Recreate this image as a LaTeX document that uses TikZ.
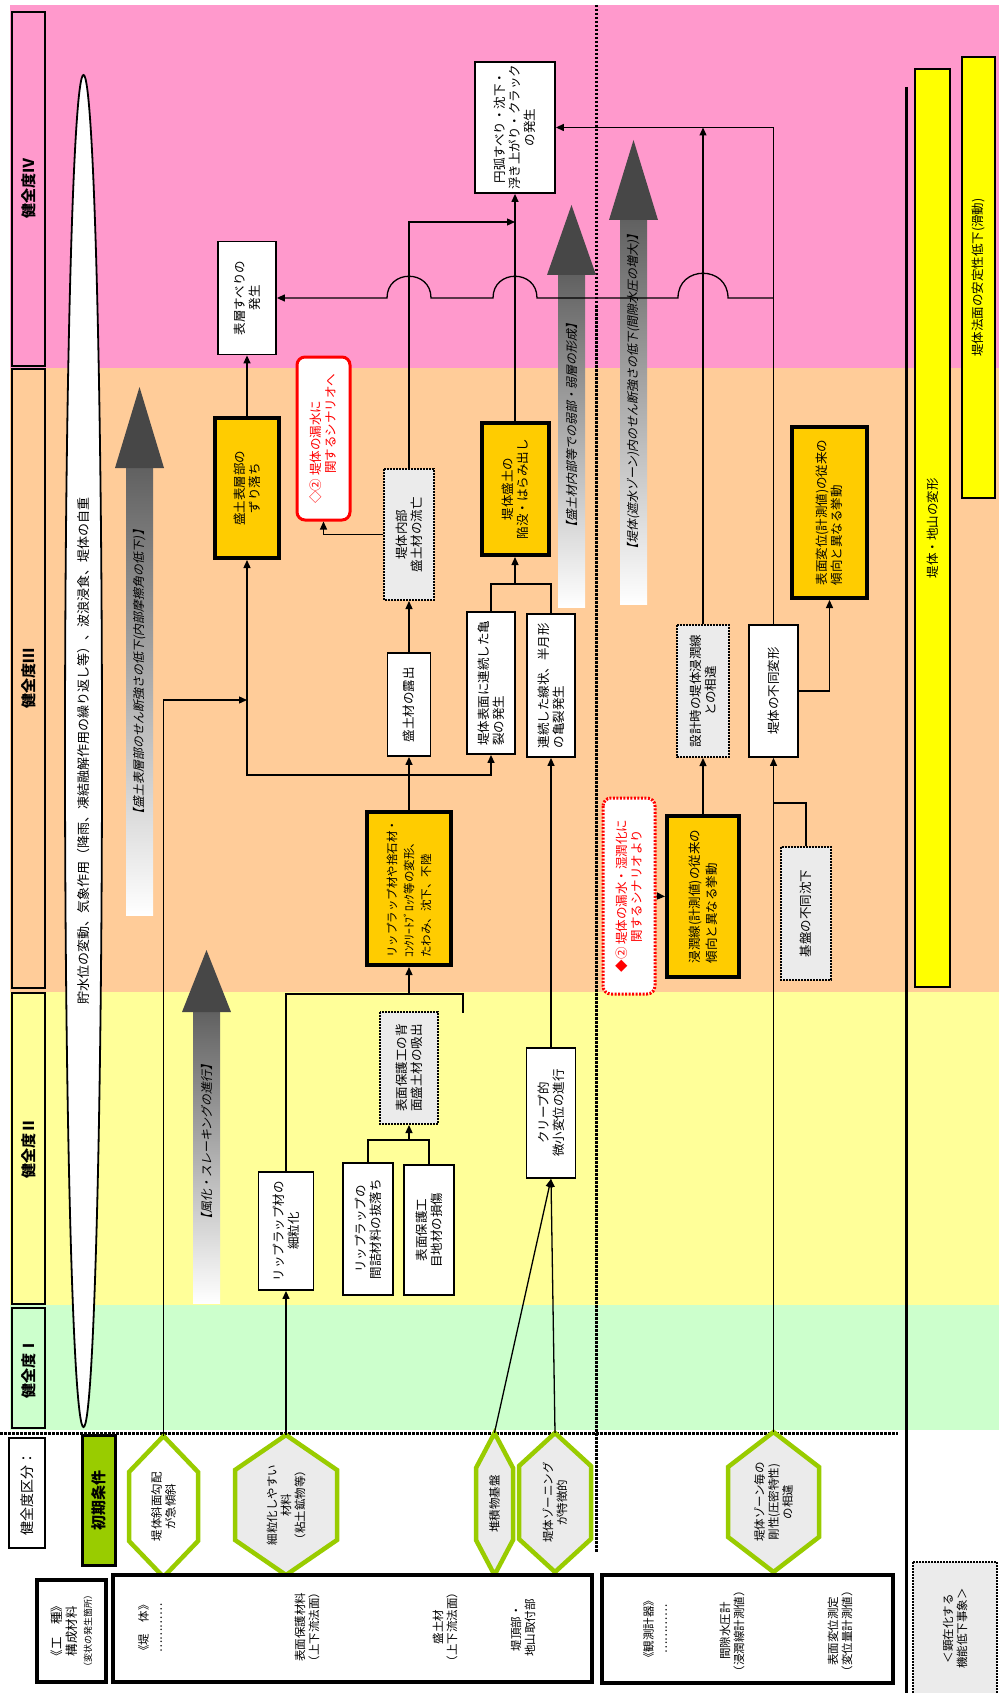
\documentclass[tikz,border=0pt]{standalone}
\usepackage{fontspec}
\setmainfont{Noto Sans CJK JP}
\newfontfamily\slantjp[FakeSlant=0.2]{Noto Sans CJK JP}
\usepackage{xcolor}
\definecolor{bandpink}{HTML}{FF99CC}
\definecolor{bandorange}{HTML}{FFCC99}
\definecolor{bandyellow}{HTML}{FFFF99}
\definecolor{bandgreen}{HTML}{CCFFCC}
\definecolor{gold}{HTML}{FFCC00}
\definecolor{baryellow}{HTML}{FFFF00}
\definecolor{leaf}{HTML}{99CC00}
\definecolor{alertred}{HTML}{FF0000}
\definecolor{dotfill}{HTML}{EBEBEB}
\usepackage{tikz}
\usetikzlibrary{shapes.geometric,arrows.meta}
\newcommand{\hexframe}[6]{\filldraw[hexline, fill=#6] (#1,#2-#4) -- (#1+#3,#2-#4+#5) -- (#1+#3,#2+#4-#5) -- (#1,#2+#4) -- (#1-#3,#2+#4-#5) -- (#1-#3,#2-#4+#5) -- cycle;}

\begin{document}
\begin{tikzpicture}[
  x=1pt, y=-1pt,
  font=\fontsize{12.5}{15}\selectfont,
  lvl/.style={draw, line width=2.5pt, rotate=90, inner sep=0pt, font=\fontsize{15}{18}\selectfont\bfseries},
  box/.style={draw, line width=1.8pt, fill=white, rotate=90, align=center, inner sep=1pt},
  keybox/.style={box, fill=gold, line width=4pt},
  latent/.style={box, fill=dotfill, line width=2pt, dash pattern=on 2pt off 1pt},
  scen/.style={box, draw=alertred, text=alertred, rounded corners=8pt, line width=3pt},
  hexline/.style={draw=leaf, line width=4.5pt},
  hextext/.style={rotate=90, align=center, inner sep=0pt, font=\fontsize{11.5}{14}\selectfont},
  bar/.style={draw, line width=2.5pt, fill=baryellow, rotate=90, inner sep=0pt},
  frame/.style={draw, line width=4pt, fill=white, rotate=90, align=center, inner sep=0pt},
  note/.style={rotate=90, align=center, inner sep=0pt, font=\fontsize{11.5}{14}\selectfont},
  flowtxt/.style={rotate=90, inner sep=0pt, font=\slantjp\fontsize{12}{14}\selectfont},
  link/.style={-{Triangle[length=8pt,width=7pt]}, line width=1.3pt},
  sepline/.style={line width=3pt, dash pattern=on 2.5pt off 1.5pt}
]
  \useasboundingbox (0,0) rectangle (999,1693);
  \fill[white] (0,0) rectangle (999,1693);
  \fill[bandpink]   (10,5)    rectangle (999,368);
  \fill[bandorange] (10,368)  rectangle (999,992);
  \fill[bandyellow] (10,992)  rectangle (999,1305);
  \fill[bandgreen]  (10,1305) rectangle (999,1430);

  \draw[sepline] (0,1433) -- (898,1433);
  \draw[sepline] (596,5) -- (596,1552);
  \draw[line width=3pt] (906.5,87) -- (906.5,1693);

  \node[lvl, fill=bandpink,   minimum width=354pt, minimum height=33pt] (lv4) at (28.5,189) {健全度Ⅳ};
  \node[lvl, fill=bandorange, minimum width=619pt, minimum height=33pt] (lv3) at (28.5,678.5) {健全度Ⅲ};
  \node[lvl, fill=bandyellow, minimum width=311pt, minimum height=33pt] (lv2) at (28.5,1148.5) {健全度Ⅱ};
  \node[lvl, fill=bandgreen,  minimum width=120pt, minimum height=33pt] (lv1) at (28.5,1368) {健全度Ⅰ};
  \node[lvl, fill=white, line width=1.8pt, font=\fontsize{14}{16}\selectfont, minimum width=110pt, minimum height=36pt] (grade) at (27,1493) {健全度区分：};
  \node[lvl, fill=leaf, line width=3pt, minimum width=130pt, minimum height=33pt] (init) at (98.5,1500) {初期条件};

  \node[draw, ellipse, line width=1.8pt, fill=white, rotate=90, inner sep=0pt, minimum width=1352pt, minimum height=37pt,
        font=\fontsize{13}{15}\selectfont] (load) at (83.5,751)
        {貯水位の変動、気象作用（降雨、凍結融解作用の繰り返し等）、波浪浸食、堤体の自重};

  \shade[top color=black!62, bottom color=white] (126,468) rectangle (153,915);
  \fill[black!72] (115,468) -- (139.5,387) -- (164,468) -- cycle;
  \node[flowtxt] (wear1) at (139.5,672) {【盛土表層部のせん断強さの低下(内部摩擦角の低下)】};
  \shade[top color=black!62, bottom color=white] (193,1012) rectangle (220,1303);
  \fill[black!72] (182,1012) -- (206.5,950) -- (231,1012) -- cycle;
  \node[flowtxt] (wear2) at (206.5,1142) {【風化・スレーキングの進行】};
  \shade[top color=black!62, bottom color=white] (558,275) rectangle (585,607);
  \fill[black!72] (547,275) -- (571.5,205) -- (596,275) -- cycle;
  \node[flowtxt] (wear3) at (571.5,425) {【盛土材内部等での弱部・弱層の形成】};
  \shade[top color=black!62, bottom color=white] (620,220) rectangle (647,604);
  \fill[black!72] (609,220) -- (633.5,140) -- (658,220) -- cycle;
  \node[flowtxt] (wear4) at (633.5,392) {【堤体(遮水ゾーン)内のせん断強さの低下(間隙水圧の増大)】};

  \node[bar, minimum width=918pt, minimum height=35pt] (deform) at (932.5,528) {堤体・地山の変形};
  \node[bar, minimum width=441pt, minimum height=33pt] (slide) at (978.5,277.5) {堤体法面の安定性低下(滑動)};

  \node[box, minimum width=113pt, minimum height=58pt] (hyoso) at (247,298) {表層すべりの\\発生};
  \node[box, minimum width=131pt, minimum height=80pt] (enko) at (515,127.5) {円弧すべり・沈下・\\浮き上がり・クラック\\の発生};
  \node[keybox, minimum width=140pt, minimum height=64pt] (zuri) at (247,488) {盛土表層部の\\ずり落ち};
  \node[scen, align=left, minimum width=163pt, minimum height=53pt] (scen1) at (323.5,438.5) {◇②\ 堤体の漏水に\\\hspace*{2.4em}関するシナリオへ};
  \node[latent, minimum width=131pt, minimum height=50pt] (ryubo) at (409,534.5) {堤体内部\\盛土材の流亡};
  \node[box, minimum width=103pt, minimum height=43pt] (roshutsu) at (409,704.5) {盛土材の露出};
  \node[box, align=left, minimum width=142pt, minimum height=48pt] (kiretsu1) at (491,683) {堤体表面に連続した亀\\裂の発生};
  \node[box, align=left, minimum width=143pt, minimum height=48pt] (kiretsu2) at (551,685.5) {連続した線状、半月形\\の亀裂発生};
  \node[keybox, minimum width=132pt, minimum height=67pt] (kanbotsu) at (515,489) {堤体盛土の\\陥没・はらみ出し};
  \node[keybox, align=left, font=\fontsize{11.5}{17}\selectfont, minimum width=153pt, minimum height=84pt] (riprap) at (409,888.5)
        {リップラップ材や捨石材・\\ｺﾝｸﾘｰﾄﾌﾞﾛｯｸ等の変形、\\たわみ、沈下、不陸};
  \node[latent, align=left, minimum width=112pt, minimum height=58pt] (haimen) at (409,1068) {表面保護工の背\\面盛土材の吸出};
  \node[box, minimum width=132pt, minimum height=50pt] (nukeochi) at (368,1229) {リップラップの\\間詰材料の抜落ち};
  \node[box, minimum width=130pt, minimum height=50pt] (sonsho) at (429,1230) {表面保護工\\目地材の損傷};
  \node[box, minimum width=118pt, minimum height=55pt] (saiguri) at (286,1231) {リップラップ材の\\細粒化};
  \node[box, minimum width=130pt, minimum height=49pt] (creep) at (551,1113) {クリープ的\\微小変位の進行};
  \node[scen, dash pattern=on 2pt off 1.5pt, align=left, minimum width=196pt, minimum height=52pt] (scen2) at (629,896)
        {◆②\ 堤体の漏水・湿潤化に\\\hspace*{2.4em}関するシナリオより};
  \node[keybox, align=left, font=\fontsize{12.5}{17}\selectfont, minimum width=161pt, minimum height=72pt] (shinjun) at (703,896.5)
        {浸潤線(計測値)の従来の\\傾向と異なる挙動};
  \node[latent, minimum width=132pt, minimum height=52pt] (sekkei) at (703,691) {設計時の堤体浸潤線\\との相違};
  \node[box, minimum width=132pt, minimum height=49pt] (fudo) at (773.5,691) {堤体の不同変形};
  \node[keybox, align=left, minimum width=171pt, minimum height=75pt] (hyomen) at (829.5,512.5) {表面変位(計測値)の従来の\\傾向と異なる挙動};
  \node[latent, minimum width=133pt, minimum height=50pt] (kiban) at (806,913.5) {基盤の不同沈下};

  \hexframe{163.5}{1506.5}{34.5}{70.5}{36}{white}
  \node[hextext, minimum width=141pt, minimum height=69pt] (h1) at (163.5,1506.5) {堤体斜面勾配\\が急傾斜};
  \hexframe{286}{1505}{51}{70}{35}{dotfill}
  \node[hextext, minimum width=140pt, minimum height=102pt] (h2) at (286,1505) {細粒化しやすい\\材料\\（粘土鉱物等）};
  \hexframe{494.5}{1504}{18.5}{71}{35}{dotfill}
  \node[hextext, minimum width=142pt, minimum height=37pt] (h3) at (494.5,1504) {堆積物基盤};
  \hexframe{555}{1502.5}{36}{69.5}{33}{dotfill}
  \node[hextext, minimum width=139pt, minimum height=72pt] (h4) at (555,1502.5) {堤体ゾーニング\\が特徴的};
  \hexframe{773.5}{1502}{45.5}{70}{35}{dotfill}
  \node[hextext, minimum width=140pt, minimum height=91pt] (h5) at (773.5,1502) {堤体ゾーン毎の\\剛性(圧密特性)\\の相違};

  \node[frame, minimum width=102pt, minimum height=69pt] (kind) at (71.5,1631)
        {《工　種》\\構成材料\\{\fontsize{9}{11}\selectfont（変状の発生箇所）}};
  \node[frame, minimum width=107pt, minimum height=479pt] (embank) at (352.5,1628.5) {};
  \node[note] (embank1) at (150,1628) {《堤　体》\\…………};
  \node[note] (embank2) at (307,1627) {表面保護材料\\（上下流法面）};
  \node[note] (embank3) at (445,1627) {盛土材\\（上下流法面）};
  \node[note] (embank4) at (523,1628) {堤頂部・\\地山取付部};
  \node[frame, minimum width=108pt, minimum height=291pt] (gauges) at (747.5,1629) {};
  \node[note] (gauge1) at (655,1629) {《観測計器》\\…………};
  \node[note] (gauge2) at (732,1631) {間隙水圧計\\（浸潤線計測値）};
  \node[note] (gauge3) at (840,1631) {表面変位測定\\（変位量計測値）};
  \node[latent, font=\fontsize{11.5}{14}\selectfont, minimum width=133pt, minimum height=84pt] (event) at (955,1628.5) {＜顕在化する\\機能低下事象＞};

  \coordinate (jh) at (247,700);
  \coordinate (jz) at (409,775);
  \coordinate (jk) at (515,584);
  \coordinate (je) at (515,222);
  \coordinate (jr) at (409,994);
  \coordinate (jt) at (463,1013);
  \coordinate (jn) at (409,1140);
  \coordinate (jb) at (773.5,803);
  \coordinate (jf) at (773.5,298);

  \draw[link] (h1.east) |- (jh);
  \draw[link] (zuri.east) -- (hyoso.west);
  \draw[link] (riprap.east) -- (roshutsu.west);
  \draw[link] (jz) -| (zuri.west);
  \draw[link] (jz) -| (kiretsu1.west);
  \draw[link] (roshutsu.east) -- (ryubo.west);
  \draw[link] (ryubo.east) |- (je);
  \draw[link] (ryubo.north) -| (scen1.west);
  \draw[link] (kanbotsu.east) -- (enko.west);
  \draw[line width=1.3pt] (kiretsu1.east) |- (jk) -| (kiretsu2.east);
  \draw[link] (jk) -- (kanbotsu.west);
  \draw[link] (creep.east) -- (kiretsu2.west);
  \draw[link] (h3.east) -- (creep.west);
  \draw[link] (h4.east) -- (creep.west);
  \draw[link] (h2.east) -- (saiguri.west);
  \draw[line width=1.3pt] (saiguri.east) |- (jr) -| (jt);
  \draw[link] (jr) -- (riprap.west);
  \draw[line width=1.3pt] (nukeochi.east) |- (jn) -| (sonsho.east);
  \draw[link] (jn) -- (haimen.west);
  \draw[link, dashed] (scen2.south) -- (shinjun.north);
  \draw[link] (shinjun.east) -- (sekkei.west);
  \draw[link] (sekkei.east) -- (sekkei.east |- enko.south);
  \draw[link] (fudo.east) |- (enko.south);
  \draw[link] (h5.east) -- (fudo.west);
  \draw[line width=1.3pt] (kiban.east) |- (jb);
  \draw[link] (fudo.south) -| (hyomen.west);
  \draw[link] (jf) -- (728,298) .. controls (728,265) and (678,265) .. (678,298)
        -- (537,298) .. controls (537,269) and (493,269) .. (493,298)
        -- (431,298) .. controls (431,269) and (387,269) .. (387,298) -- (hyoso.south);
\end{tikzpicture}
\end{document}
